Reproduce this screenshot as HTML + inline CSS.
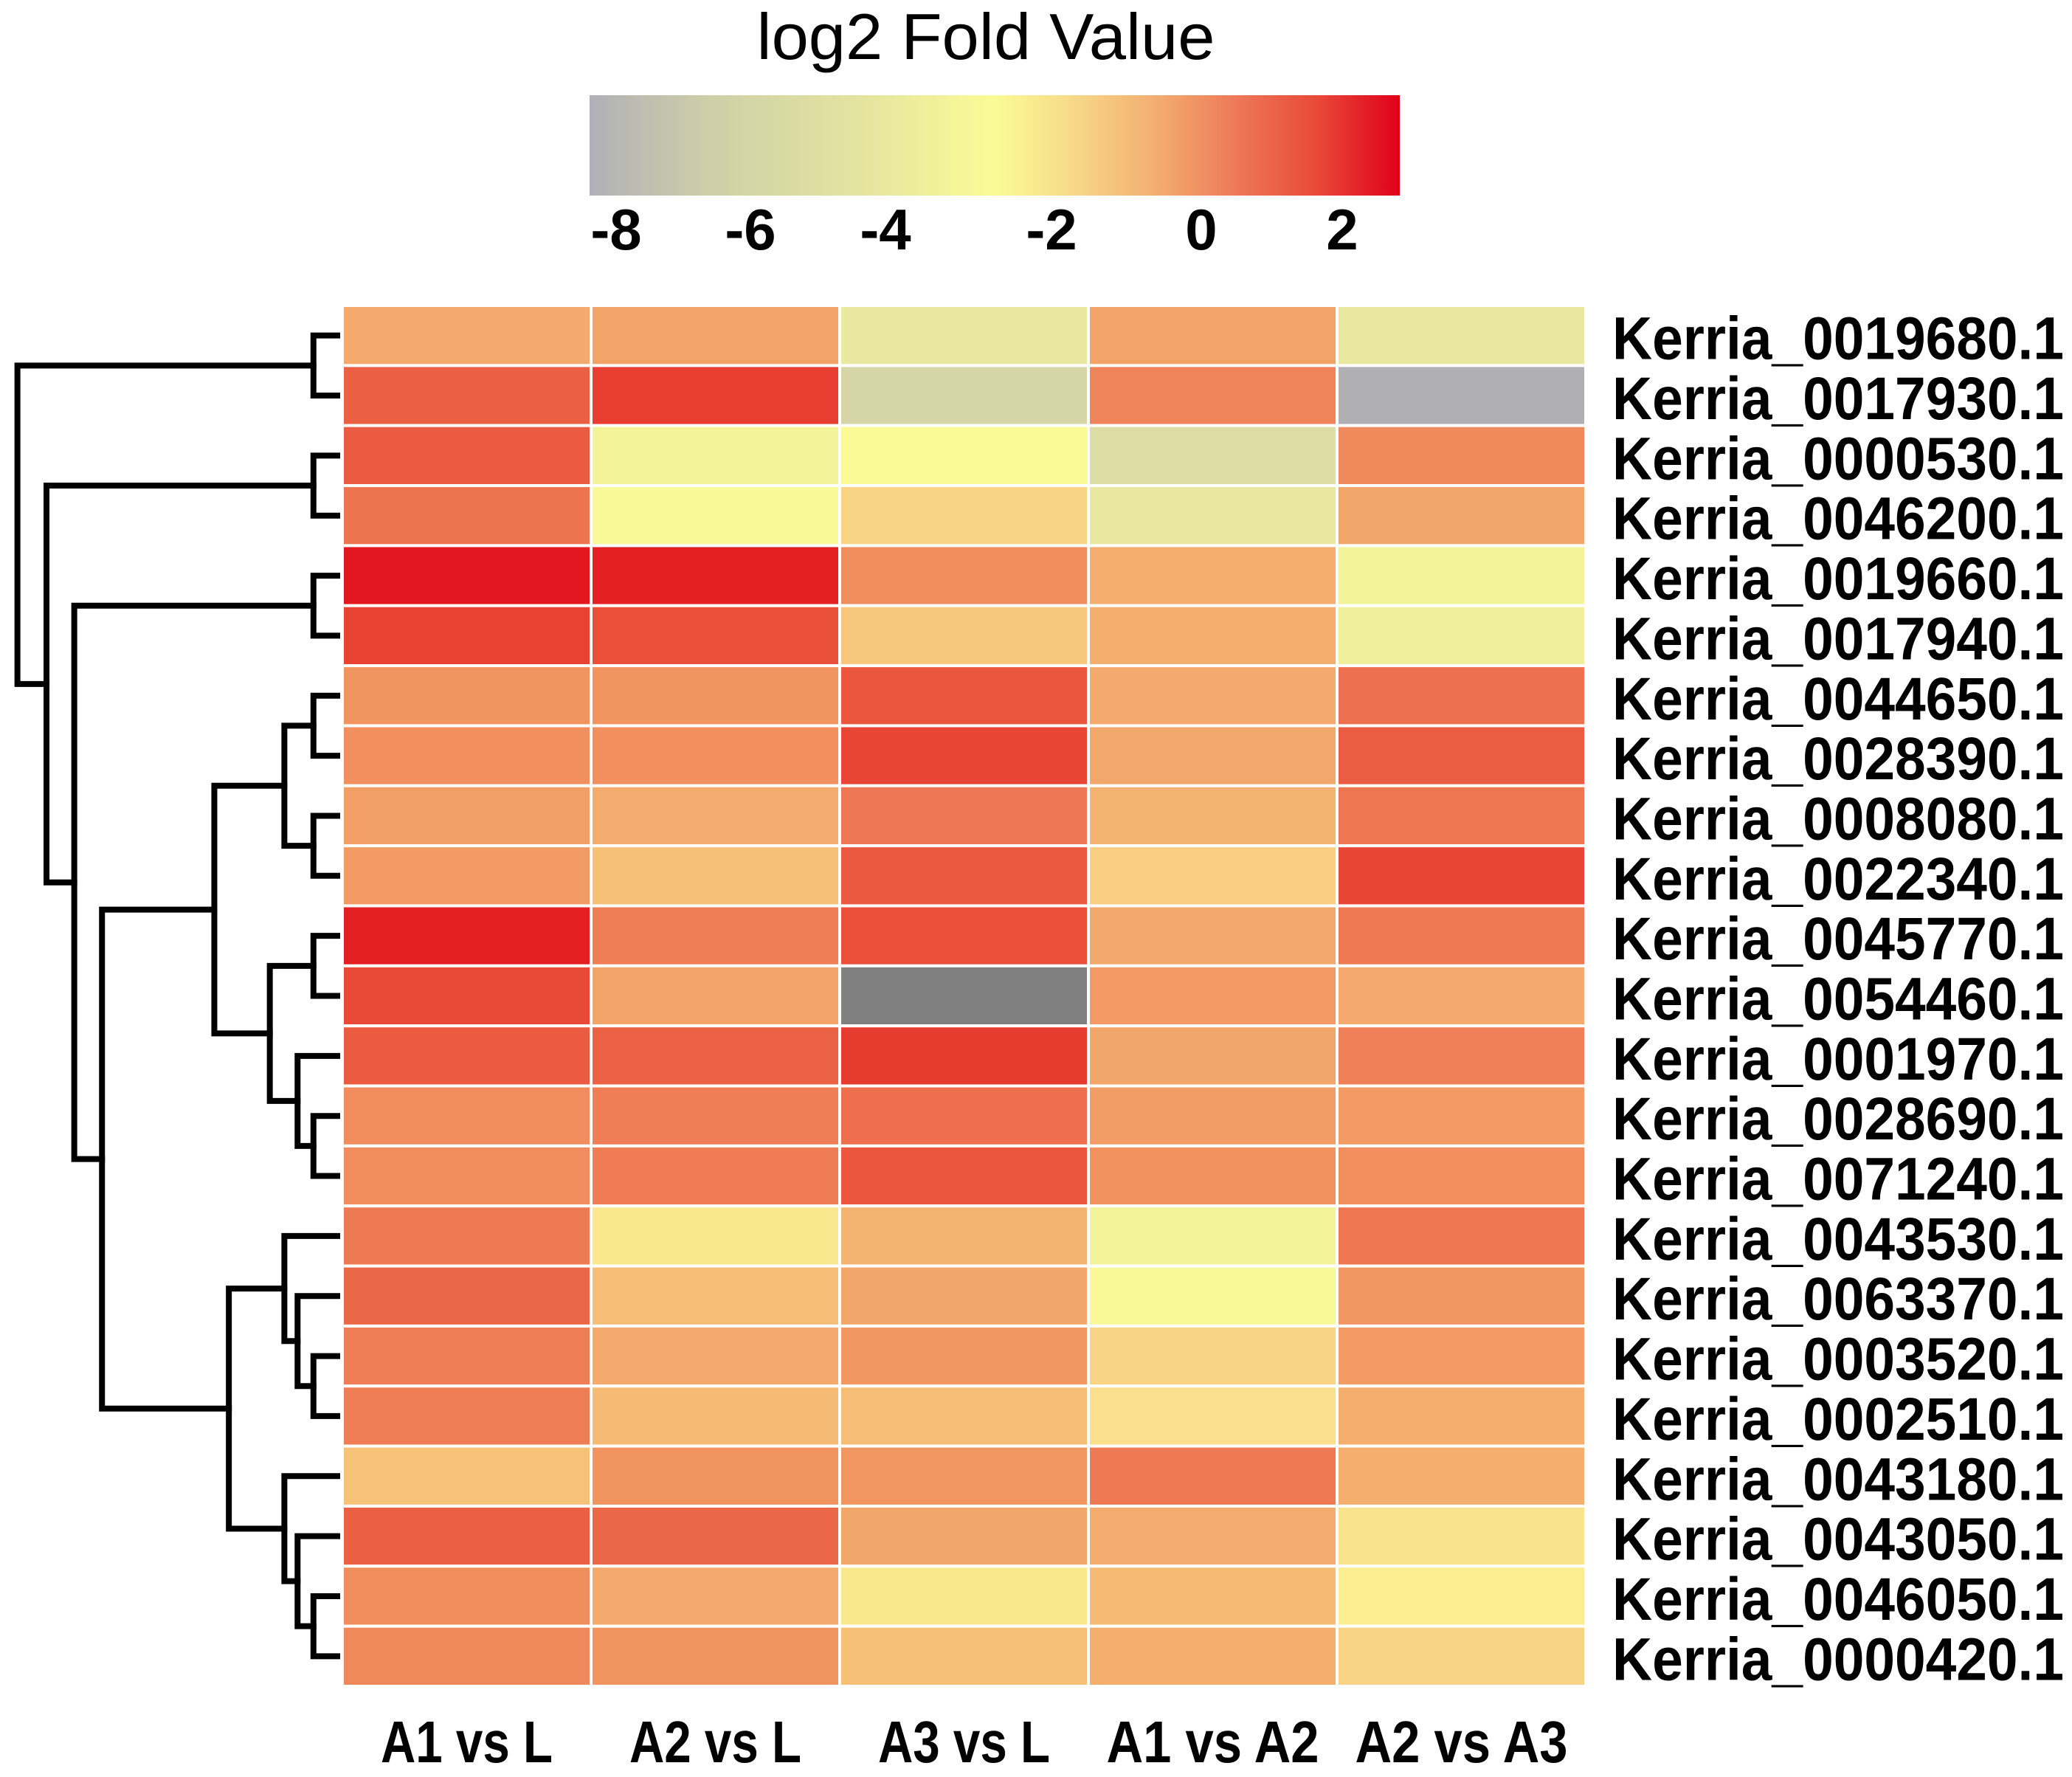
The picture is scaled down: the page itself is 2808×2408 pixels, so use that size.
<!DOCTYPE html>
<html><head><meta charset="utf-8"><style>
html,body{margin:0;padding:0;background:#fff}
svg{display:block}
text{font-family:"Liberation Sans",sans-serif}
</style></head><body>
<svg id="chart" width="2808" height="2408" viewBox="0 0 2808 2408" xmlns="http://www.w3.org/2000/svg">
<defs>
<linearGradient id="cbg" x1="0" x2="1" y1="0" y2="0">
<stop offset="0" stop-color="#b0b0b8"/>
<stop offset="0.15" stop-color="#cfcfa8"/>
<stop offset="0.35" stop-color="#e6e6a0"/>
<stop offset="0.5" stop-color="#fbfb96"/>
<stop offset="0.6" stop-color="#f7d888"/>
<stop offset="0.7" stop-color="#f3ad70"/>
<stop offset="0.8" stop-color="#ee7858"/>
<stop offset="0.9" stop-color="#e84838"/>
<stop offset="1" stop-color="#e0001a"/>
</linearGradient>
</defs>
<text x="1336" y="80" font-size="88" text-anchor="middle" textLength="621" lengthAdjust="spacingAndGlyphs">log2 Fold Value</text>
<rect x="799" y="129" width="1098" height="136" fill="url(#cbg)"/>
<g id="cbticks"></g>
<g id="cells"></g>
<g id="dendro" fill="none" stroke="#000" stroke-width="8" stroke-linecap="square"></g>
<g id="rowlabels"></g>
<g id="collabels"></g>
</svg>
<script>
const columns = ["A1 vs L","A2 vs L","A3 vs L","A1 vs A2","A2 vs A3"];
const genes = ["Kerria_0019680.1","Kerria_0017930.1","Kerria_0000530.1","Kerria_0046200.1","Kerria_0019660.1","Kerria_0017940.1","Kerria_0044650.1","Kerria_0028390.1","Kerria_0008080.1","Kerria_0022340.1","Kerria_0045770.1","Kerria_0054460.1","Kerria_0001970.1","Kerria_0028690.1","Kerria_0071240.1","Kerria_0043530.1","Kerria_0063370.1","Kerria_0003520.1","Kerria_0002510.1","Kerria_0043180.1","Kerria_0043050.1","Kerria_0046050.1","Kerria_0000420.1"];
const values = [
[-1.2,-1.0,-4,-1.0,-4],
[0.8,1.7,-6,-0.1,-8],
[0.9,-3.2,-2.7,-5.2,-0.3],
[0.3,-2.8,-2.0,-4,-1.1],
[2.5,2.4,-0.4,-1.3,-3.2],
[1.6,1.2,-1.8,-1.3,-3.4],
[-0.6,-0.6,1.0,-1.2,0.35],
[-0.45,-0.45,1.5,-1.15,0.85],
[-0.9,-1.25,0.2,-1.4,0.25],
[-0.75,-1.65,0.95,-1.9,1.5],
[2.4,0.05,1.2,-1.15,0.15],
[1.35,-1.05,-10,-0.8,-1.2],
[0.9,0.75,1.8,-1.1,0],
[-0.35,0.05,0.4,-0.85,-0.8],
[-0.35,0.1,1.0,-0.55,-0.45],
[0.15,-2.35,-1.4,-3.2,0.25],
[0.6,-1.6,-1.1,-2.8,-0.7],
[0.05,-1.2,-0.7,-2.0,-0.8],
[0.05,-1.55,-1.6,-2.2,-1.3],
[-1.7,-0.6,-0.65,0.15,-1.3],
[0.8,0.6,-1.1,-1.25,-2.25],
[-0.4,-1.2,-2.35,-1.55,-2.45],
[-0.25,-0.6,-1.65,-1.3,-2.0]
];
const tickValues = [-8,-6,-4,-2,0,2];
const tickLabels = ["-8","-6","-4","-2","0","2"];
const clusterA = [[[6,7,18],[8,9,18],40],[[10,11,18],[12,[13,14,18],30],51],93];
const clusterB = [[15,[16,[17,18,18],30],40],[19,[20,[21,22,18],30],40],82];
const rest3 = [clusterA, clusterB, 178];
const rest2 = [[4,5,18], rest3, 199];
const rest1 = [[2,3,18], rest2, 220];
const tree = [[0,1,18], rest1, 242];

const NS="http://www.w3.org/2000/svg";
const X0=464,X1=2149,Y0=414,Y1=2285;
const cw=(X1-X0)/columns.length, rh=(Y1-Y0)/genes.length;
function xCol(i){return X0+i*cw;}
function yRow(i){return Y0+i*rh;}
const cbV=[-8,-6,-4,-2,0,2], cbX=[835,1017,1200,1425,1628,1819];
function xCb(v){
 for(let i=0;i<cbV.length-1;i++){
  if(v<=cbV[i+1]||i==cbV.length-2){const t=(v-cbV[i])/(cbV[i+1]-cbV[i]);return cbX[i]+t*(cbX[i+1]-cbX[i]);}
 }
 return cbX[0];
}
const sV=[-10,-8,-6,-4,-3.2,-2.7,-2.2,-1.7,-1.2,-0.6,0,0.6,1.2,1.8,2.4,2.8];
const sC=["#808080","#b0b0b3","#d5d5a8","#e8e8a0","#f3f39a","#fbfb96","#fae08c","#f6c278","#f3aa6c","#f19460","#ef8058","#ec6748","#e94f39","#e63b2f","#e31f22","#e00018"];
function hex(c){return [1,3,5].map(i=>parseInt(c.substr(i,2),16));}
function color(v){
 if(v<=sV[0])return sC[0];
 if(v>=sV[sV.length-1])return sC[sC.length-1];
 for(let i=0;i<sV.length-1;i++){
  if(v<=sV[i+1]){const t=(v-sV[i])/(sV[i+1]-sV[i]);const a=hex(sC[i]),b=hex(sC[i+1]);return "rgb("+a.map((x,k)=>Math.round(x+t*(b[k]-x))).join(",")+")";}
 }
 return sC[0];
}
function mk(tag,attrs,parent){const e=document.createElementNS(NS,tag);for(const k in attrs)e.setAttribute(k,attrs[k]);parent.appendChild(e);return e;}
const gT=document.getElementById('cbticks');
tickValues.forEach((v,i)=>{
 const t=mk('text',{x:xCb(v),y:338,'font-size':78,'font-weight':'bold','text-anchor':'middle'},gT);
 
 
 t.textContent=tickLabels[i];
});
const gC=document.getElementById('cells');
values.forEach((row,r)=>row.forEach((v,c)=>{
 const e=mk('rect',{x:xCol(c),y:yRow(r),width:cw,height:rh,fill:color(v),stroke:'#fff','stroke-width':4},gC);
 
 
}));
const gR=document.getElementById('rowlabels');
genes.forEach((g,r)=>{
 const t=mk('text',{x:2185,y:yRow(r)+rh/2+32,'font-size':82,'font-weight':'bold',textLength:612,lengthAdjust:'spacingAndGlyphs'},gR);
 
 
 t.textContent=g;
});
const gL=document.getElementById('collabels');
columns.forEach((c,i)=>{
 const t=mk('text',{x:xCol(i)+cw/2,y:2388,'font-size':80,'font-weight':'bold','text-anchor':'middle',textLength:(c.length>7?288:233),lengthAdjust:'spacingAndGlyphs'},gL);
 
 
 t.textContent=c;
});
const gD=document.getElementById('dendro');
const LEAFX=457, SC=1.7908;
function xD(h){return LEAFX-h*SC;}
function draw(node){
 if(typeof node==='number')return {y:yRow(node)+rh/2,x:LEAFX};
 const a=draw(node[0]),b=draw(node[1]);const x=xD(node[2]);
 const p=mk('path',{d:'M'+a.x+','+a.y+'H'+x+'V'+b.y+'H'+b.x},gD);
 
 
 return {x:x,y:(a.y+b.y)/2};
}
draw(tree);
</script>
</body></html>
